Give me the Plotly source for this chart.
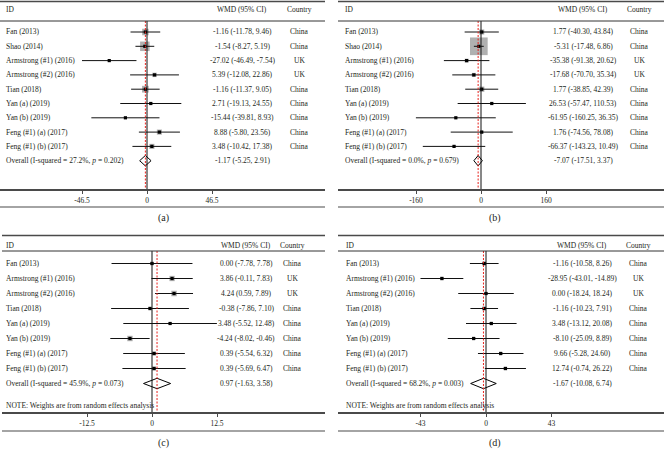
import math
import plotly.graph_objects as go

W, H = 664, 449

# ---------------- data ----------------
studies_ab = ["Fan (2013)", "Shao (2014)", "Armstrong (#1) (2016)", "Armstrong (#2) (2016)",
              "Tian (2018)", "Yan (a) (2019)", "Yan (b) (2019)",
              "Feng (#1) (a) (2017)", "Feng (#1) (b) (2017)"]
countries_ab = ["China", "China", "UK", "UK", "China", "China", "China", "China", "China"]

studies_cd = ["Fan (2013)", "Armstrong (#1) (2016)", "Armstrong (#2) (2016)",
              "Tian (2018)", "Yan (a) (2019)", "Yan (b) (2019)",
              "Feng (#1) (a) (2017)", "Feng (#1) (b) (2017)"]
countries_cd = ["China", "UK", "UK", "China", "China", "China", "China", "China"]

a_est = [-1.16, -1.54, -27.02, 5.39, -1.16, 2.71, -15.44, 8.88, 3.48]
a_lo = [-11.78, -8.27, -46.49, -12.08, -11.37, -19.13, -39.81, -5.80, -10.42]
a_hi = [9.46, 5.19, -7.54, 22.86, 9.05, 24.55, 8.93, 23.56, 17.38]
a_weight = [13.0, 28.0, 1.5, 6.0, 14.0, 2.5, 1.5, 8.0, 8.0]
a_overall = [-1.17, -5.25, 2.91]
a_i2, a_p = "27.2%", "0.202"
a_ticks = [-46.5, 0, 46.5]

b_est = [1.77, -5.31, -35.38, -17.68, 1.77, 26.53, -61.95, 1.76, -66.37]
b_lo = [-40.30, -17.48, -91.38, -70.70, -38.85, -57.47, -160.25, -74.56, -143.23]
b_hi = [43.84, 6.86, 20.62, 35.34, 42.39, 110.53, 36.35, 78.08, 10.49]
b_weight = [6.1, 72.8, 3.5, 3.8, 6.5, 1.5, 1.1, 1.9, 1.8]
b_overall = [-7.07, -17.51, 3.37]
b_i2, b_p = "0.0%", "0.679"
b_ticks = [-160, 0, 160]

c_est = [0.00, 3.86, 4.24, -0.38, 3.48, -4.24, 0.39, 0.39]
c_lo = [-7.78, -0.11, 0.59, -7.86, -5.52, -8.02, -5.54, -5.69]
c_hi = [7.78, 7.83, 7.89, 7.10, 12.48, -0.46, 6.32, 6.47]
c_weight = [7.4, 18.1, 19.7, 7.9, 5.8, 19.0, 11.2, 10.8]
c_overall = [0.97, -1.63, 3.58]
c_i2, c_p = "45.9%", "0.073"
c_ticks = [-12.5, 0, 12.5]

d_est = [-1.16, -28.95, 0.00, -1.16, 3.48, -8.10, 9.66, 12.74]
d_lo = [-10.58, -43.01, -18.24, -10.23, -13.12, -25.09, -5.28, -0.74]
d_hi = [8.26, -14.89, 18.24, 7.91, 20.08, 8.89, 24.60, 26.22]
d_weight = [15.5, 12.6, 10.2, 15.7, 11.1, 10.9, 12.1, 13.0]
d_overall = [-1.67, -10.08, 6.74]
d_i2, d_p = "68.2%", "0.003"
d_ticks = [-43, 0, 43]

panel_letters = ["(a)", "(b)", "(c)", "(d)"]

# ---------------- styling / geometry (pixels) ----------------
TOP = dict(top=1, bottom=189, row0=32, step=14.3, underline=21, header=10,
           border=207, label=218, note=None)
BOT = dict(top=235, bottom=412, row0=263.5, step=15.0, underline=251, header=245,
           border=431, label=443, note=405)

panels = [
    dict(names=studies_ab, ctry=countries_ab, est=a_est, lo=a_lo, hi=a_hi, w=a_weight,
         ov=a_overall, i2=a_i2, p=a_p, ticks=a_ticks, note=False,
         left=0, right=325, zero=147, tickpx=65, lx=4, wx=242, cx=299, box=1.8, V=TOP),
    dict(names=studies_ab, ctry=countries_ab, est=b_est, lo=b_lo, hi=b_hi, w=b_weight,
         ov=b_overall, i2=b_i2, p=b_p, ticks=b_ticks, note=False,
         left=338, right=664, zero=481, tickpx=65, lx=343, wx=583, cx=639, box=2.07, V=TOP),
    dict(names=studies_cd, ctry=countries_cd, est=c_est, lo=c_lo, hi=c_hi, w=c_weight,
         ov=c_overall, i2=c_i2, p=c_p, ticks=c_ticks, note=True,
         left=2, right=325, zero=152, tickpx=65, lx=4, wx=246, cx=292, box=1.24, V=BOT),
    dict(names=studies_cd, ctry=countries_cd, est=d_est, lo=d_lo, hi=d_hi, w=d_weight,
         ov=d_overall, i2=d_i2, p=d_p, ticks=d_ticks, note=True,
         left=338, right=664, zero=486, tickpx=65.5, lx=344, wx=582, cx=638, box=0.98, V=BOT),
]

FONT = "Liberation Serif, Times New Roman, serif"
TXT = "#231f20"
FS = 7.5

fig = go.Figure()
layout = dict(width=W, height=H, margin=dict(l=0, r=0, t=0, b=0),
              paper_bgcolor="white", plot_bgcolor="white", showlegend=False,
              font=dict(family=FONT, size=FS, color=TXT))
annotations, shapes = [], []


def fmt(e, l, h):
    return f"{e:.2f} ({l:.2f}, {h:.2f})"


for k, P in enumerate(panels):
    xa = "x" if k == 0 else f"x{k+1}"
    ya = "y" if k == 0 else f"y{k+1}"
    V = P["V"]
    r = lambda px: (px - V["row0"]) / V["step"]
    n = len(P["est"])
    rows = list(range(n))
    ppu = P["tickpx"] / P["ticks"][-1]
    xr = [(P["left"] - P["zero"]) / ppu, (P["right"] - P["zero"]) / ppu]
    yr = [r(V["bottom"]), r(V["top"])]

    layout[("xaxis" if k == 0 else f"xaxis{k+1}")] = dict(
        domain=[P["left"] / W, P["right"] / W], range=xr, anchor=ya,
        showline=True, linecolor="#4a4a4a", linewidth=1.5, mirror=False,
        ticks="outside", ticklen=3, tickwidth=1, tickcolor="#4a4a4a",
        tickvals=P["ticks"], ticktext=[f"{t:g}" for t in P["ticks"]],
        tickfont=dict(family=FONT, size=7.5, color=TXT),
        showgrid=False, zeroline=False, fixedrange=True)
    layout[("yaxis" if k == 0 else f"yaxis{k+1}")] = dict(
        domain=[1 - V["bottom"] / H, 1 - V["top"] / H], range=yr, anchor=xa,
        visible=False, fixedrange=True)

    # weight boxes
    fig.add_trace(go.Scatter(
        x=P["est"], y=rows, xaxis=xa, yaxis=ya, mode="markers", hoverinfo="skip",
        marker=dict(symbol="square", color="#8e8e8e",
                    size=[P["box"] * math.sqrt(w) for w in P["w"]], line=dict(width=0))))
    # CI lines
    xs, ys = [], []
    for i in rows:
        xs += [P["lo"][i], P["hi"][i], None]
        ys += [i, i, None]
    fig.add_trace(go.Scatter(x=xs, y=ys, xaxis=xa, yaxis=ya, mode="lines",
                             hoverinfo="skip", line=dict(color="#111", width=1)))
    # point estimates
    fig.add_trace(go.Scatter(
        x=P["est"], y=rows, xaxis=xa, yaxis=ya, mode="markers", hoverinfo="skip",
        marker=dict(symbol="square", color="black", size=3.2, line=dict(width=0))))
    # overall diamond
    oe, ol, oh = P["ov"]
    hh = 5.2 / V["step"]
    fig.add_trace(go.Scatter(
        x=[ol, oe, oh, oe, ol], y=[n, n - hh, n, n + hh, n], xaxis=xa, yaxis=ya,
        mode="lines", fill="toself", fillcolor="white", hoverinfo="skip",
        line=dict(color="black", width=1)))

    # vertical lines
    shapes.append(dict(type="line", xref=xa, yref=ya, x0=0, x1=0,
                       y0=r(V["underline"]), y1=yr[0], layer="above",
                       line=dict(color="#111", width=1)))
    shapes.append(dict(type="line", xref=xa, yref=ya, x0=oe, x1=oe,
                       y0=r(V["underline"]), y1=yr[0], layer="above",
                       line=dict(color="#e8211c", width=1, dash="2px,1.5px")))
    # borders
    x0p, x1p = P["left"] / W, P["right"] / W
    shapes.append(dict(type="line", xref="paper", yref="paper", x0=x0p, x1=x1p,
                       y0=1 - (V["top"] + 0.5) / H, y1=1 - (V["top"] + 0.5) / H,
                       line=dict(color="#4a4a4a", width=1.6)))
    shapes.append(dict(type="line", xref="paper", yref=ya, x0=x0p, x1=x1p,
                       y0=r(V["underline"]), y1=r(V["underline"]),
                       line=dict(color="#333", width=1)))
    shapes.append(dict(type="line", xref="paper", yref="paper", x0=x0p, x1=x1p,
                       y0=1 - V["border"] / H, y1=1 - V["border"] / H,
                       line=dict(color="#4a4a4a", width=1.2)))

    def ann(text, xpx, yv, anchor="left", size=FS, yref=ya):
        annotations.append(dict(text=text, x=xpx / W, y=yv, xref="paper", yref=yref,
                                xanchor=anchor, yanchor="middle", showarrow=False,
                                font=dict(family=FONT, size=size, color=TXT)))

    # header
    hy = r(V["header"])
    ann("ID", P["lx"], hy)
    ann("WMD (95% CI)", P["wx"], hy, "center")
    ann("Country", P["cx"], hy, "center")
    # rows
    for i in rows:
        ann(P["names"][i], P["lx"], i)
        ann(fmt(P["est"][i], P["lo"][i], P["hi"][i]), P["wx"], i, "center")
        ann(P["ctry"][i], P["cx"], i, "center")
    ann(f"Overall (I-squared = {P['i2']}, <i>p</i> = {P['p']})", P["lx"], n)
    ann(fmt(oe, ol, oh), P["wx"], n, "center")
    if P["note"]:
        ann("NOTE: Weights are from random effects analysis", P["lx"], r(V["note"]))
    # panel letter
    ann(panel_letters[k], 163 if k % 2 == 0 else 495,
        1 - V["label"] / H, "center", size=10, yref="paper")

layout["annotations"] = annotations
layout["shapes"] = shapes
fig.update_layout(**layout)
fig.write_html("out.html", config={"displayModeBar": False},
               post_script="document.body.style.margin='0px';document.body.style.overflow='hidden';")
